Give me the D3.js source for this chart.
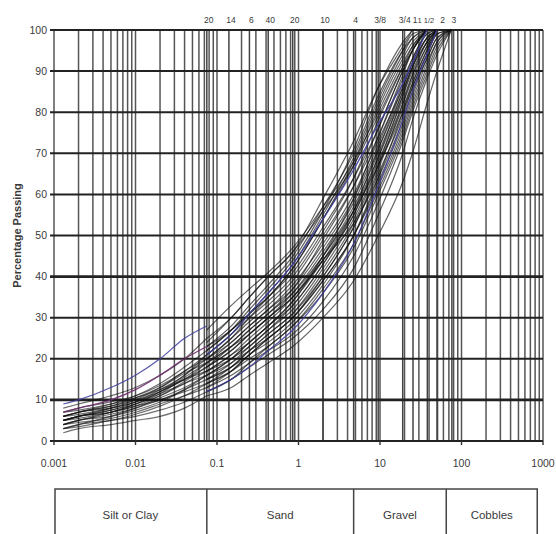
<!DOCTYPE html>
<html lang="en">
<head>
<meta charset="utf-8" />
<script src="https://cdn.jsdelivr.net/npm/d3@7"></script>
<style>
  body { margin: 0; background: #fff; }
  text { font-family: "Liberation Sans Narrow", "Liberation Sans", Arial, sans-serif; fill: #3a3a3a; }
</style>
</head>
<body>
<div id="chart"></div>
<script>
// grain sizes (mm) where the curves were read
var hydroSizes = [0.0013, 0.002, 0.005, 0.01, 0.02, 0.04, 0.075];
var sieveSizes = [0.075, 0.15, 0.25, 0.425, 0.85, 2, 4.75, 9.5, 19, 25, 37.5, 50, 75];

// hydrometer part (fines), percent passing at hydroSizes
var hydroCurves = [
  [6, 7, 9, 11, 14, 18, 22],
  [5, 6, 8, 10, 13, 17, 20],
  [6, 7, 8.5, 10, 12, 15, 18],
  [4, 5, 7, 9, 12, 15, 19],
  [5, 6, 7.5, 9, 11, 14, 17],
  [3, 4, 6, 8, 10.5, 13, 16],
  [4, 5, 6.5, 8, 10, 12, 14],
  [7, 8, 9.5, 11, 13.5, 17, 21],
  [5, 6, 7, 8.5, 10, 12.5, 15],
  [6, 6.5, 8, 9.5, 12, 16, 20],
  [2, 3, 4, 5, 6, 8, 11],
  [4, 4.5, 5.5, 7, 9, 11, 13],
  [3, 4, 5, 6.5, 8.5, 11, 14],
  [8, 9, 11, 13, 16, 20, 25],
  [5, 5.5, 7, 8.5, 11, 14.5, 18],
  [6, 7, 8.5, 10.5, 13, 16.5, 19],
  [4, 5, 6, 7.5, 9.5, 12.5, 16],
  [7, 7.5, 9, 10.5, 12.5, 15, 17],
  [5, 6, 7.5, 9.5, 12.5, 16, 21],
  [3, 3.5, 5, 6, 7.5, 9.5, 12],
  [6, 7, 8, 9.5, 11.5, 14, 16],
  [5, 6, 7, 9, 11.5, 15.5, 19]
];
var hydroBlue = [9, 10, 13, 16, 20, 25, 28];
var hydroPurple = [7, 8, 10, 12.5, 16, 20, 23];

// sieve part, percent passing at sieveSizes (stops once 100 is reached)
var sieveCurves = [
  [27, 33, 37, 41, 47, 57, 68, 80, 92, 96, 100],
  [24, 30, 35, 40, 46, 56, 67, 79, 91, 95, 100],
  [22, 27, 31, 35, 42, 54, 67, 81, 93, 97, 100],
  [21, 26, 30, 34, 40, 51, 64, 78, 91, 96, 100],
  [20, 25, 29, 33, 39, 50, 62, 74, 88, 93, 99, 100],
  [19, 24, 28, 32, 38, 48, 60, 73, 86, 92, 98, 100],
  [18, 22, 26, 30, 36, 46, 58, 71, 85, 91, 97, 100],
  [17, 21, 25, 29, 35, 45, 57, 70, 84, 90, 97, 100],
  [16, 20, 24, 28, 33, 43, 55, 68, 82, 88, 96, 100],
  [15, 19, 23, 27, 32, 42, 54, 67, 81, 87, 95, 100],
  [14, 18, 22, 26, 31, 40, 52, 65, 79, 86, 94, 99, 100],
  [13, 17, 21, 25, 30, 39, 50, 63, 77, 84, 93, 98, 100],
  [12, 15, 19, 23, 28, 37, 48, 61, 75, 82, 91, 97, 100],
  [13, 16, 19, 22, 26, 34, 45, 58, 73, 80, 89, 95, 100],
  [12, 15, 18, 21, 25, 32, 42, 55, 70, 78, 88, 94, 100],
  [23, 28, 33, 38, 45, 57, 70, 84, 95, 98, 100],
  [25, 30, 35, 40, 46, 59, 73, 86, 96, 100],
  [20, 25, 30, 35, 42, 54, 68, 82, 94, 98, 100],
  [18, 23, 27, 31, 37, 49, 62, 76, 90, 95, 100],
  [17, 21, 24, 28, 34, 44, 56, 69, 83, 89, 96, 100],
  [16, 19, 22, 25, 30, 39, 50, 62, 76, 83, 92, 97, 100],
  [19, 23, 27, 31, 36, 45, 56, 67, 80, 86, 94, 99, 100],
  [21, 26, 31, 36, 43, 55, 69, 83, 95, 99, 100],
  [15, 18, 21, 25, 30, 40, 52, 66, 82, 89, 97, 100],
  [14, 17, 20, 23, 28, 36, 47, 60, 74, 81, 90, 96, 100],
  [18, 22, 26, 30, 35, 44, 53, 64, 78, 85, 93, 98, 100],
  [22, 27, 32, 37, 44, 56, 71, 86, 97, 100],
  [16, 20, 24, 28, 34, 45, 59, 74, 89, 95, 100],
  [11, 13, 16, 19, 23, 30, 39, 50, 63, 70, 82, 90, 100],
  [20, 24, 28, 32, 37, 47, 59, 72, 87, 93, 100],
  [17, 20, 23, 27, 33, 43, 56, 71, 86, 92, 99, 100],
  [15, 18, 22, 26, 31, 41, 53, 67, 84, 91, 98, 100],
  [19, 23, 26, 30, 35, 44, 55, 69, 85, 91, 98, 100],
  [14, 17, 21, 24, 29, 38, 50, 64, 80, 87, 95, 100],
  [23, 27, 31, 35, 41, 52, 64, 76, 90, 95, 100]
];
var sieveBlueUpper = [21, 26, 31, 36, 43, 54, 66, 77, 87, 92, 100];
var sieveBlueLower = [12, 15, 18, 22, 27, 36, 48, 62, 78, 85, 94, 100];

// sieve lines and their labels along the top
var sieveLineSizes = [0.075, 0.14, 0.25, 0.425, 0.85, 2, 4.75, 9.5, 19, 25.4, 38.1, 50.8, 76.2];
var sieveLabels = ["20", "14", "6", "40", "20", "10", "4", "3/8", "3/4", "1", "1 1/2", "2", "3"];

var yTicks = [0, 10, 20, 30, 40, 50, 60, 70, 80, 90, 100];
var xTickValues = [0.001, 0.01, 0.1, 1, 10, 100, 1000];
var xTickLabels = ["0.001", "0.01", "0.1", "1", "10", "100", "1000"];

var soilClasses = ["Silt or Clay", "Sand", "Gravel", "Cobbles"];
var soilBounds = [0.001, 0.075, 4.75, 65, 850];

var W = 556, H = 534;
var svg = d3.select("#chart").append("svg").attr("width", W).attr("height", H);

var x = d3.scaleLog().domain([0.001, 1000]).range([54, 543]);
var y = d3.scaleLinear().domain([0, 100]).range([441, 30]);

// vertical grid: log minor lines
var grid = svg.append("g");
grid.selectAll("line.minor")
  .data(x.ticks())
  .enter().append("line")
  .attr("x1", d => x(d)).attr("x2", d => x(d))
  .attr("y1", y(0)).attr("y2", y(100))
  .attr("stroke", "#555").attr("stroke-width", 1.5);

grid.selectAll("line.sieve")
  .data(sieveLineSizes)
  .enter().append("line")
  .attr("x1", d => x(d)).attr("x2", d => x(d))
  .attr("y1", y(0)).attr("y2", y(100))
  .attr("stroke", "#444").attr("stroke-width", 1.5);

grid.selectAll("line.h")
  .data(yTicks)
  .enter().append("line")
  .attr("x1", x(0.001) - 4).attr("x2", x(1000))
  .attr("y1", d => y(d)).attr("y2", d => y(d))
  .attr("stroke", "#222")
  .attr("stroke-width", d => (d == 10 || d == 40) ? 2.6 : 2);

// small ticks under the x axis
grid.selectAll("line.xt")
  .data(xTickValues)
  .enter().append("line")
  .attr("x1", d => x(d)).attr("x2", d => x(d))
  .attr("y1", y(0)).attr("y2", y(0) + 4)
  .attr("stroke", "#333").attr("stroke-width", 1.4);

// curves
var line = d3.line()
  .x(d => x(d[0])).y(d => y(d[1]))
  .curve(d3.curveMonotoneX);

function drawCurve(sizes, vals, color, width, op) {
  var pts = vals.map((v, i) => [sizes[i], v]);
  svg.append("path")
    .attr("d", line(pts))
    .attr("fill", "none")
    .attr("stroke", color)
    .attr("stroke-width", width)
    .attr("stroke-opacity", op);
}

hydroCurves.forEach(c => drawCurve(hydroSizes, c, "#111", 1.2, 0.6));
sieveCurves.forEach(c => drawCurve(sieveSizes, c, "#111", 1.2, 0.65));
drawCurve(hydroSizes, hydroBlue, "#3c3c9e", 1.2, 0.85);
drawCurve(hydroSizes, hydroPurple, "#6e2a6e", 1.3, 0.9);
drawCurve(sieveSizes, sieveBlueUpper, "#3c3c9e", 1.3, 0.9);
drawCurve(sieveSizes, sieveBlueLower, "#3c3c9e", 1.2, 0.85);

// y axis labels
svg.selectAll("text.yl")
  .data(yTicks)
  .enter().append("text")
  .attr("x", 47).attr("y", d => y(d) + 3.5)
  .attr("text-anchor", "end")
  .style("font-size", "10.5px")
  .text(d => d);

svg.append("text")
  .attr("transform", "translate(21," + y(50) + ") rotate(-90)")
  .attr("text-anchor", "middle")
  .style("font-size", "11px").style("font-weight", "bold")
  .text("Percentage Passing");

// x axis labels
svg.selectAll("text.xl")
  .data(xTickValues)
  .enter().append("text")
  .attr("x", d => x(d)).attr("y", 467)
  .attr("text-anchor", "middle")
  .style("font-size", "10.5px")
  .text((d, i) => xTickLabels[i]);

// sieve labels on top (the 1 1/2 and 2 inch ones are nudged apart)
svg.selectAll("text.sl")
  .data(sieveLineSizes)
  .enter().append("text")
  .attr("x", (d, i) => x(d) + (i == 10 ? -1.5 : i == 11 ? 5 : 2))
  .attr("y", 23)
  .attr("text-anchor", "middle")
  .style("font-size", (d, i) => i == 10 ? "7.5px" : "8.5px")
  .text((d, i) => sieveLabels[i]);

// soil class table
var tbl = svg.append("g");
tbl.append("rect")
  .attr("x", x(soilBounds[0]) + 1).attr("y", 489)
  .attr("width", x(soilBounds[4]) - x(soilBounds[0]) - 1).attr("height", 60)
  .attr("fill", "none").attr("stroke", "#444").attr("stroke-width", 1.5);
tbl.selectAll("line.div")
  .data(soilBounds.slice(1, 4))
  .enter().append("line")
  .attr("x1", d => x(d)).attr("x2", d => x(d))
  .attr("y1", 489).attr("y2", H)
  .attr("stroke", "#444").attr("stroke-width", 1.5);
tbl.selectAll("text.cls")
  .data(soilClasses)
  .enter().append("text")
  .attr("x", (d, i) => (x(soilBounds[i]) + x(soilBounds[i + 1])) / 2)
  .attr("y", 519)
  .attr("text-anchor", "middle")
  .style("font-size", "11.5px")
  .text(d => d);
</script>
</body>
</html>
